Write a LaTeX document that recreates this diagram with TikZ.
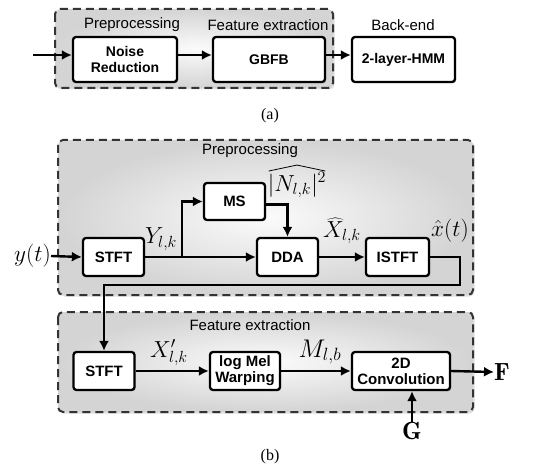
\documentclass[tikz,border=0pt]{standalone}
\usepackage{fontspec}
\setsansfont{Liberation Sans}
\newfontfamily\capfont{Liberation Serif}
\usetikzlibrary{arrows.meta,calc,shadows}
\begin{document}
\begin{tikzpicture}[x=1pt,y=-1pt,
  region/.style={draw=black!80,line width=2pt,dash pattern=on 8pt off 5pt,rounded corners=5pt,shading=radial,inner color=gray!3,outer color=gray!34,
     drop shadow={shadow xshift=1.5pt,shadow yshift=-1.5pt,opacity=0.25}},
  blk/.style={draw=black,line width=2.3pt,rounded corners=3pt,fill=white,inner sep=1pt,align=center,font=\sffamily\bfseries\fontsize{15}{16}\selectfont,
     drop shadow={shadow xshift=1.2pt,shadow yshift=-1.2pt,opacity=0.3}},
  blka/.style={blk,font=\sffamily\bfseries\fontsize{14}{15.5}\selectfont},
  lbl/.style={font=\sffamily\fontsize{15}{16}\selectfont,inner sep=0pt},
  mlbl/.style={font=\huge,inner sep=0pt,scale=1.12},
  bigm/.style={font=\Huge,inner sep=0pt},
  captxt/.style={font=\capfont\fontsize{16}{18}\selectfont,inner sep=0pt},
  arr/.style={line width=2.4pt,-{Latex[length=10pt,width=10pt]}},
  hatline/.style={line width=0.8pt,line join=miter}]
\useasboundingbox (0,0) rectangle (536,476);
% ---------- (a) ----------
\path[region] (55,9) rectangle (333,88);
\node[lbl] (pa) at (132,25) {Preprocessing};
\node[lbl] (fa) at (268,25) {Feature extraction};
\node[lbl] (ba) at (403,25) {Back-end};
\node[blka,minimum width=104pt,minimum height=45pt] (nr) at (125,59.5) {Noise\\Reduction};
\node[blka,minimum width=112pt,minimum height=45pt] (gb) at (269,59.5) {GBFB};
\node[blka,minimum width=103pt,minimum height=45pt] (hmm) at (403.5,59.5) {2-layer-HMM};
\coordinate (ina) at (33,55);
\draw[arr] (ina) -- ([yshift=4.5pt]nr.west);
\draw[arr] ([yshift=4.5pt]nr.east) -- ([yshift=4.5pt]gb.west);
\draw[arr] ([yshift=4.5pt]gb.east) -- ([yshift=4.5pt]hmm.west);
\node[captxt] (capa) at (270,116) {(a)};
% ---------- (b) preprocessing ----------
\path[region] (58,140) rectangle (473,295);
\node[lbl] (pb) at (250,151) {Preprocessing};
\node[blk,minimum width=61pt,minimum height=37pt] (ms) at (234.5,201.5) {MS};
\node[blk,minimum width=61pt,minimum height=38pt] (stft) at (113.5,257) {STFT};
\node[blk,minimum width=61pt,minimum height=38pt] (dda) at (287.5,257) {DDA};
\node[blk,minimum width=63pt,minimum height=38pt] (istft) at (397.5,257) {ISTFT};
\node[mlbl,anchor=east] (yt) at (51,256) {$y(t)$};
\draw[arr] (yt.east) -- (stft.west);
\coordinate (br) at (182,257);
\draw[arr] (stft.east) -- (dda.west);
\draw[arr] (br) |- (ms.west);
\draw[arr] ([yshift=-3pt]ms.east) -| (dda.north);
\node[mlbl] (yl) at (161,239) {$Y_{l,k}$};
\node[mlbl] (nl) at (297,185) {$|N_{l,k}|^2$};
\draw[hatline] ([xshift=1pt,yshift=1pt]nl.north west) -- ([yshift=7pt]nl.north) -- ([xshift=-1pt,yshift=1pt]nl.north east);
\draw[arr] (dda.east) -- (istft.west);
\node[mlbl] (xh) at (342,231) {$\widehat{X}_{l,k}$};
\node[mlbl] (xt) at (450,231) {$\hat{x}(t)$};
% ---------- (b) feature extraction ----------
\path[region] (58,312) rectangle (473,412);
\node[lbl] (fb) at (250,325) {Feature extraction};
\node[blk,minimum width=61pt,minimum height=38pt] (stft2) at (104,371) {STFT};
\node[blk,minimum width=70pt,minimum height=38pt] (lmw) at (245,371) {log Mel\\Warping};
\node[blk,minimum width=98pt,minimum height=38pt] (conv) at (401,371) {2D\\Convolution};
\coordinate (c1) at (460,285);
\draw[arr] (istft.east) -| (c1) -| (stft2.north);
\draw[arr] (stft2.east) -- (lmw.west);
\draw[arr] (lmw.east) -- (conv.west);
\node[mlbl] (xp) at (169,353) {$X'_{l,k}$};
\node[mlbl,scale=1.1] (ml) at (320,352) {$M_{l,b}$};
\node[bigm,anchor=west] (F) at (494,372) {$\mathbf{F}$};
\draw[arr] (conv.east) -- (F.west);
\node[bigm] (G) at (412,431) {$\mathbf{G}$};
\draw[arr] (G.north) -- (G.north |- conv.south);
\node[captxt] (capb) at (270,457) {(b)};
\end{tikzpicture}
\end{document}
